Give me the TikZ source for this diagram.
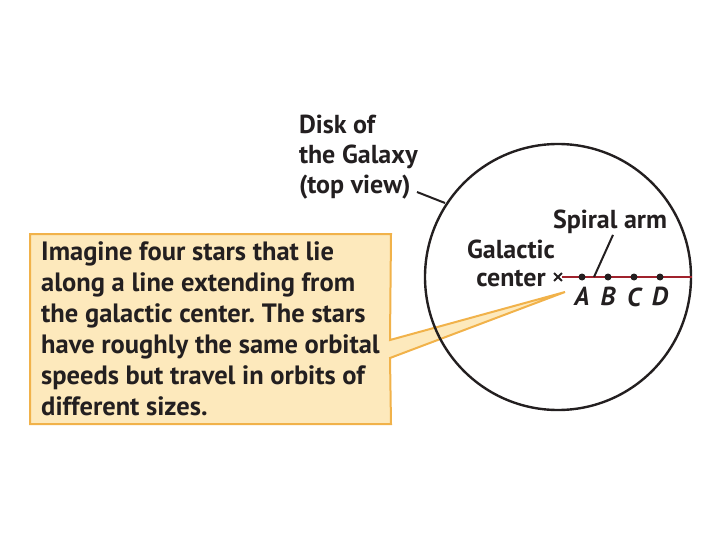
\documentclass[tikz,border=0pt]{standalone}
\usepackage{fontspec}
\setmainfont{PT Sans}
\frenchspacing
\usetikzlibrary{positioning, backgrounds, shapes.misc}
\definecolor{cink}{HTML}{231F20}
\definecolor{carm}{HTML}{A0222C}
\definecolor{cnote}{HTML}{FDE9BC}
\definecolor{cnoteline}{HTML}{F1B24A}
\tikzset{
  every picture/.style={line width=2pt},
  tag/.style={text=cink, inner sep=0pt, font=\fontsize{26}{30}\selectfont\bfseries},
  notebox/.style={text=cink, align=left, inner sep=0pt, minimum width=359pt, minimum height=188pt,
    font=\fontsize{26.5}{31}\selectfont\bfseries},
  notefill/.style={draw=cnoteline, fill=cnote, line width=2pt, line join=miter},
  galaxy/.style={circle, draw=cink, line width=2.4pt, minimum size=266pt, inner sep=0pt},
  stardot/.style={circle, fill=cink, minimum size=7pt, inner sep=0pt},
  starlabel/.style={text=cink, inner sep=0pt, label distance=5pt, font=\fontsize{26}{28}\selectfont\bfseries\itshape},
  centermark/.style={cross out, draw=cink, line width=1.8pt, minimum size=6pt, inner sep=0pt},
  arm/.style={draw=carm, line width=2.6pt},
  leader/.style={draw=cink, line width=2pt},
}
\begin{document}
\begin{tikzpicture}[x=1pt, y=-1pt]
  \useasboundingbox (0,0) rectangle (720,540);
  % callout box
  \node[notebox] (note) at (210.5,329) {Imagine four stars that lie\\along a line extending from\\the galactic center. The stars\\have roughly the same orbital\\speeds but travel in orbits of\\different sizes.};
  \coordinate (ptop) at (390,340);
  \coordinate (pbot) at (390,358);
  \coordinate (tip) at (565,292);
  \begin{scope}[on background layer]
    \draw[notefill] (note.north west) -- (note.north east) -- (ptop) -- (tip) -- (pbot)
      -- (note.south east) -- (note.south west) -- cycle;
  \end{scope}
  % disk of the galaxy
  \node[galaxy] (disk) at (558,277) {};
  \node[tag, align=left, anchor=north west] (disklabel) at (298,114) {Disk of\\the Galaxy\\(top view)};
  \coordinate (disktail) at (417,192);
  \coordinate (diskpt) at (445,203);
  \draw[leader] (disktail) -- (diskpt);
  % spiral arm with the four stars
  \node[centermark] (gc) at (558,277) {};
  \draw[arm] (gc.east) -- (disk.east);
  \foreach \n/\x in {A/582, B/608, C/634, D/660}
    \node[stardot, label={[starlabel]below:\n}] (\n) at (\x,277) {};
  \node[tag, align=center, font=\fontsize{26}{28}\selectfont\bfseries] (gclabel) at (511,263) {Galactic\\center};
  \node[tag] (armlabel) at (610,222) {Spiral arm};
  \coordinate (armpt) at (594,277);
  \draw[leader] ([xshift=3pt]armlabel.south) -- (armpt);
\end{tikzpicture}
\end{document}
